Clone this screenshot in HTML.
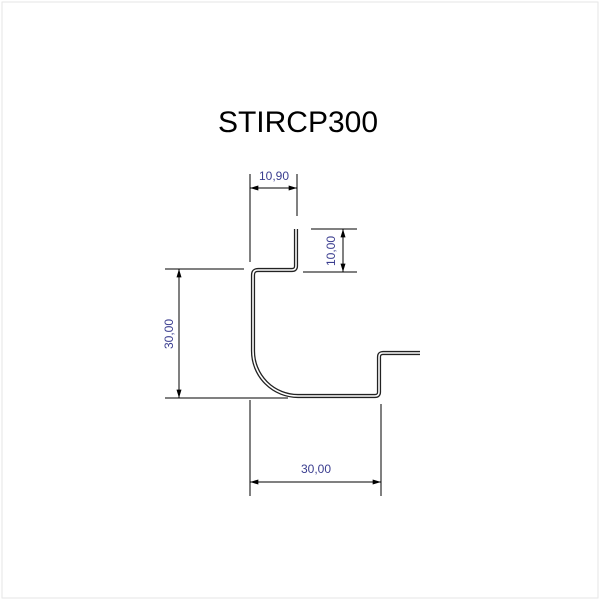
<!DOCTYPE html>
<html><head><style>
body{margin:0;background:#fff;}
svg{display:block;}
text{font-family:"Liberation Sans",sans-serif;}
</style></head><body>
<svg width="600" height="600" viewBox="0 0 600 600" xmlns="http://www.w3.org/2000/svg">
<rect x="2" y="2" width="596" height="596" fill="none" stroke="#e6e6e6" stroke-width="1"/>
<text x="298" y="132" font-size="30" text-anchor="middle" fill="#000">STIRCP300</text>
<defs>
<marker id="a" viewBox="0 0 10 6" refX="10" refY="3" markerWidth="14" markerHeight="5" markerUnits="userSpaceOnUse" orient="auto-start-reverse"><path d="M0,0L10,3L0,6z" fill="#000"/></marker>
</defs>
<g stroke="#000" stroke-width="1" fill="none">
<line x1="250" y1="174" x2="250" y2="262"/>
<line x1="250" y1="400" x2="250" y2="496"/>
<line x1="297" y1="174" x2="297" y2="216"/>
<line x1="311" y1="229" x2="357" y2="229"/>
<line x1="303" y1="272" x2="357" y2="272"/>
<line x1="165" y1="269" x2="244" y2="269"/>
<line x1="165" y1="398" x2="288" y2="398"/>
<line x1="381" y1="404" x2="381" y2="496"/>
<line x1="250" y1="188" x2="297" y2="188" marker-start="url(#a)" marker-end="url(#a)"/>
<line x1="343" y1="229" x2="343" y2="272" marker-start="url(#a)" marker-end="url(#a)"/>
<line x1="179" y1="269" x2="179" y2="398" marker-start="url(#a)" marker-end="url(#a)"/>
<line x1="250" y1="482" x2="381" y2="482" marker-start="url(#a)" marker-end="url(#a)"/>
</g>
<path d="M296,229 L296,266 Q296,270 292,270 L258,270 Q253,270 253,275 L253,351 A45,45 0 0 0 298,396 L375,396 Q379,396 379,392 L379,357 Q379,353 383,353 L420,353" fill="none" stroke="#222" stroke-width="4.2" stroke-linejoin="round"/>
<path d="M296,229 L296,266 Q296,270 292,270 L258,270 Q253,270 253,275 L253,351 A45,45 0 0 0 298,396 L375,396 Q379,396 379,392 L379,357 Q379,353 383,353 L420,353" fill="none" stroke="#fff" stroke-width="1.6" stroke-linejoin="round"/>
<g fill="#3a3d8f" font-size="12">
<text x="274" y="180" text-anchor="middle">10,90</text>
<text transform="translate(335,251) rotate(-90)" text-anchor="middle">10,00</text>
<text transform="translate(173,334) rotate(-90)" text-anchor="middle">30,00</text>
<text x="316" y="473" text-anchor="middle">30,00</text>
</g>
</svg>
</body></html>
